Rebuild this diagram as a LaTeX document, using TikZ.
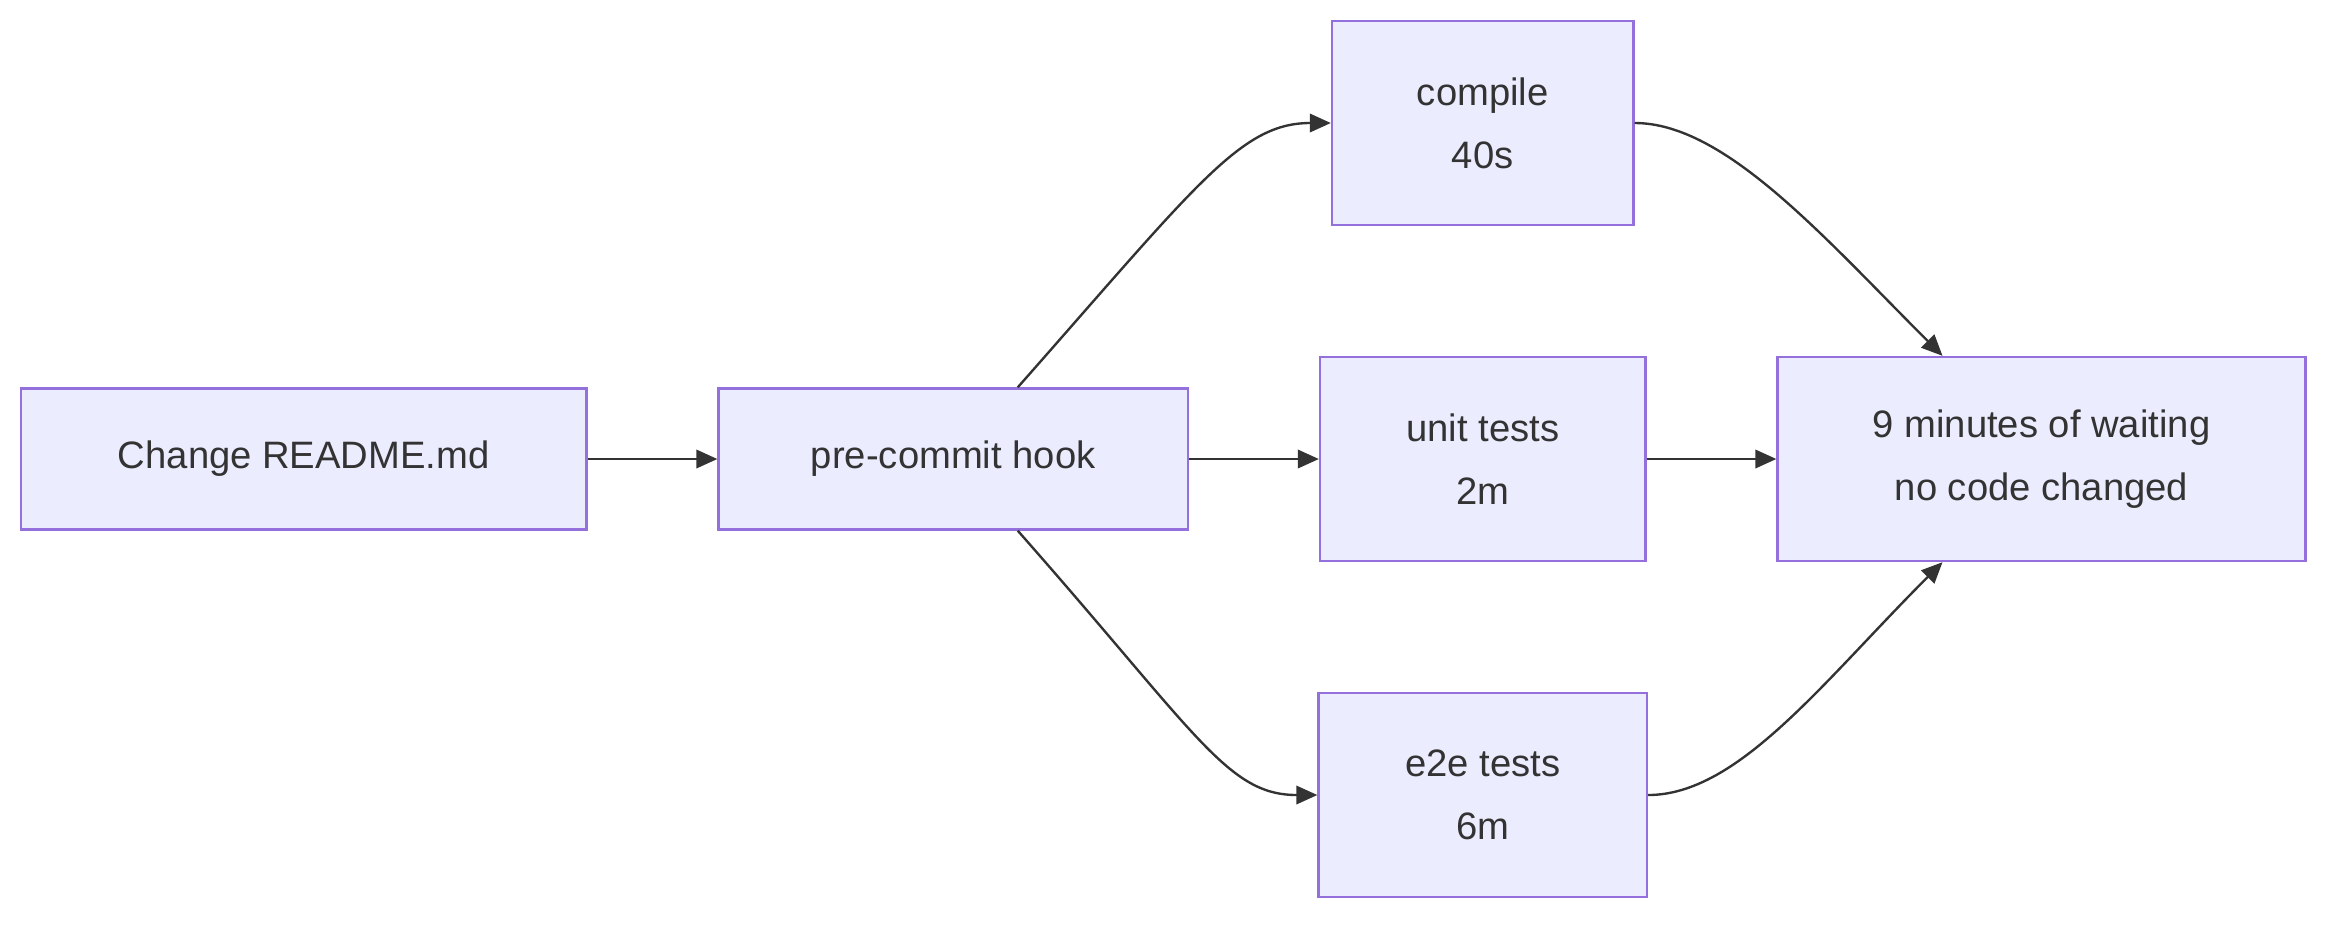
\documentclass[tikz,border=0pt]{standalone}
\usepackage{fontspec}
\setmainfont{Liberation Sans}
\usetikzlibrary{positioning,arrows.meta,calc}
\definecolor{boxfill}{HTML}{ECECFF}
\definecolor{boxline}{HTML}{9370DB}
\definecolor{ink}{HTML}{333333}

\begin{document}
\begin{tikzpicture}[x=0.02cm,y=-0.02cm]
\tikzset{job/.style={draw=boxline,fill=boxfill,line width=0.9pt,text=ink,align=center,
         inner sep=0pt,font=\fontsize{14.5}{24}\selectfont},
         flow/.style={draw=ink,line width=0.9pt,-{Triangle[length=8pt,width=7pt]}}};
   \useasboundingbox (0,0) rectangle (1568,620);

   \node[job,minimum width=7.54cm,minimum height=1.88cm] at (202.5,306) (change) {Change README.md};
   \node[job,minimum width=6.26cm,minimum height=1.88cm] at (635.5,306) (hook) {pre-commit hook};
   \node[job,minimum width=4.02cm,minimum height=2.72cm] at (988.5,82) (compile) {compile\\40s};
   \node[job,minimum width=4.34cm,minimum height=2.72cm] at (988.5,306) (unit) {unit tests\\2m};
   \node[job,minimum width=4.38cm,minimum height=2.72cm] at (988.5,530) (e2e) {e2e tests\\6m};
   \node[job,minimum width=7.04cm,minimum height=2.72cm] at (1361,306) (wait) {9 minutes of waiting\\no code changed};

   \draw[flow] (change) -- (hook);
   \draw[flow] (hook) -- (unit);
   \draw[flow] (unit) -- (wait);
   \draw[flow] ($(hook.north)+(43,0)$) .. controls +(120,-136) and +(-60,0) .. (compile.west);
   \draw[flow] ($(hook.south)+(43,0)$) .. controls +(120,136) and +(-60,0) .. (e2e.west);
   \draw[flow] (compile.east) .. controls +(60,0) and +(-80,-80) .. ($(wait.north)+(-66,0)$);
   \draw[flow] (e2e.east) .. controls +(60,0) and +(-80,80) .. ($(wait.south)+(-66,0)$);

\end{tikzpicture}
\end{document}
